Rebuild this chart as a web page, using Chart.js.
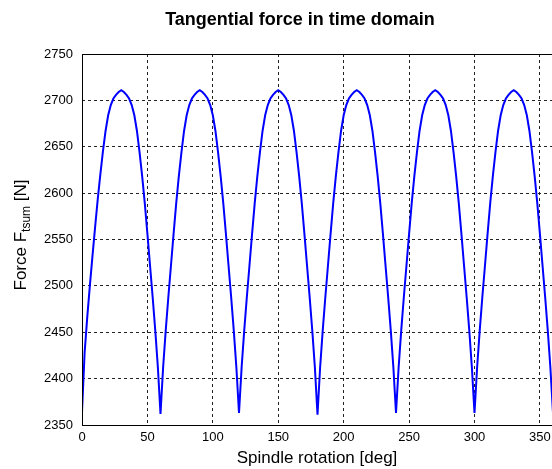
<!DOCTYPE html>
<html>
<head>
<meta charset="utf-8">
<script src="https://cdn.jsdelivr.net/npm/chart.js@4"></script>
<style>
  html, body { margin: 0; padding: 0; background: #fff; overflow: hidden; }
  #wrap { width: 552px; height: 469px; overflow: hidden; }
</style>
</head>
<body>
<div id="wrap"><canvas id="myChart" width="556" height="469"></canvas></div>
<script>
const chartTitle = 'Tangential force in time domain';
const xTitle = 'Spindle rotation [deg]';

const xTicks = [0, 50, 100, 150, 200, 250, 300, 350];
const yTicks = [2350, 2400, 2450, 2500, 2550, 2600, 2650, 2700, 2750];

// spindle angle, deg
const angles = [
  0, 2, 4, 6, 8, 10, 12, 14, 16, 18, 20, 22, 24, 26, 28, 30, 32, 34, 36, 38, 40, 42, 44, 46, 48, 50, 52, 54, 56, 58,
  60, 62, 64, 66, 68, 70, 72, 74, 76, 78, 80, 82, 84, 86, 88, 90, 92, 94, 96, 98, 100, 102, 104, 106, 108, 110, 112, 114, 116, 118,
  120, 122, 124, 126, 128, 130, 132, 134, 136, 138, 140, 142, 144, 146, 148, 150, 152, 154, 156, 158, 160, 162, 164, 166, 168, 170, 172, 174, 176, 178,
  180, 182, 184, 186, 188, 190, 192, 194, 196, 198, 200, 202, 204, 206, 208, 210, 212, 214, 216, 218, 220, 222, 224, 226, 228, 230, 232, 234, 236, 238,
  240, 242, 244, 246, 248, 250, 252, 254, 256, 258, 260, 262, 264, 266, 268, 270, 272, 274, 276, 278, 280, 282, 284, 286, 288, 290, 292, 294, 296, 298,
  300, 302, 304, 306, 308, 310, 312, 314, 316, 318, 320, 322, 324, 326, 328, 330, 332, 334, 336, 338, 340, 342, 344, 346, 348, 350, 352, 354, 356, 358,
  360
];

// tangential force sum, N
const forceTsum = [
  2364, 2428, 2466, 2500, 2532, 2563, 2593, 2620, 2645, 2667, 2684, 2695, 2702, 2706, 2709, 2711, 2709, 2706, 2702, 2695, 2684, 2667, 2644, 2618, 2589, 2556, 2522, 2488, 2452, 2412,
  2362, 2412, 2452, 2488, 2522, 2556, 2589, 2618, 2644, 2667, 2684, 2695, 2702, 2706, 2709, 2711, 2709, 2706, 2702, 2695, 2684, 2667, 2644, 2618, 2589, 2556, 2522, 2488, 2452, 2412,
  2363, 2412, 2452, 2488, 2522, 2556, 2589, 2618, 2644, 2667, 2684, 2695, 2702, 2706, 2709, 2711, 2709, 2706, 2702, 2695, 2684, 2667, 2644, 2618, 2589, 2556, 2522, 2488, 2452, 2412,
  2361, 2412, 2452, 2488, 2522, 2556, 2589, 2618, 2644, 2667, 2684, 2695, 2702, 2706, 2709, 2711, 2709, 2706, 2702, 2695, 2684, 2667, 2644, 2618, 2589, 2556, 2522, 2488, 2452, 2412,
  2363, 2412, 2452, 2488, 2522, 2556, 2589, 2618, 2644, 2667, 2684, 2695, 2702, 2706, 2709, 2711, 2709, 2706, 2702, 2695, 2684, 2667, 2644, 2618, 2589, 2556, 2522, 2488, 2452, 2412,
  2363, 2412, 2452, 2488, 2522, 2556, 2589, 2618, 2644, 2667, 2684, 2695, 2702, 2706, 2709, 2711, 2709, 2706, 2702, 2695, 2684, 2667, 2644, 2618, 2589, 2556, 2522, 2488, 2452, 2412,
  2363
];

const FONT = '"Liberation Sans", Arial, Helvetica, sans-serif';

// box, title and axis labels drawn the MATLAB way
const matlabDecor = {
  id: 'matlabDecor',
  afterDatasetsDraw: (chart) => {
    const { ctx, chartArea } = chart;
    const { left, top, right, bottom } = chartArea;
    ctx.save();
    ctx.strokeStyle = '#000';
    ctx.lineWidth = 1;
    ctx.strokeRect(Math.round(left) + 0.5, Math.round(top) + 0.5, Math.round(right - left), Math.round(bottom - top));

    ctx.fillStyle = '#000';
    ctx.textAlign = 'center';
    ctx.textBaseline = 'middle';
    ctx.font = 'bold 18px ' + FONT;
    ctx.fillText(chartTitle, 300, 20);

    ctx.font = '17px ' + FONT;
    ctx.fillText(xTitle, 317, 458);

    // y label with subscript
    const mainFont = '17px ' + FONT;
    const subFont = '12px ' + FONT;
    const parts = [
      { t: 'Force F', f: mainFont, dy: 0 },
      { t: 'tsum', f: subFont, dy: 6 },
      { t: ' [N]', f: mainFont, dy: 0 }
    ];
    let total = 0;
    parts.forEach((p) => { ctx.font = p.f; p.w = ctx.measureText(p.t).width; total += p.w; });
    ctx.translate(21, 235);
    ctx.rotate(-Math.PI / 2);
    ctx.textAlign = 'left';
    let xPos = -total / 2;
    parts.forEach((p) => {
      ctx.font = p.f;
      ctx.fillText(p.t, xPos, p.dy);
      xPos += p.w;
    });
    ctx.restore();
  }
};

const generateChart = () => {
  const ctx = document.getElementById('myChart');
  const points = angles.map((a, i) => ({ x: a, y: forceTsum[i] }));

  return new Chart(ctx, {
    type: 'line',
    data: {
      datasets: [
        {
          label: 'Ftsum',
          data: points,
          borderColor: '#0000ff',
          borderWidth: 2,
          pointRadius: 0,
          tension: 0,
          fill: false
        }
      ]
    },
    options: {
      responsive: false,
      animation: false,
      layout: { padding: { left: 0, right: 3, top: 54, bottom: 0 } },
      plugins: {
        legend: { display: false },
        title: { display: false },
        tooltip: { enabled: false }
      },
      scales: {
        x: {
          type: 'linear',
          min: 0,
          max: 360,
          afterBuildTicks: (scale) => {
            scale.ticks = xTicks.map((v) => ({ value: v }));
          },
          afterFit: (scale) => { scale.height = 44; },
          ticks: {
            color: '#000',
            font: { family: FONT, size: 13 },
            padding: 5,
            maxRotation: 0,
            callback: (v) => String(v)
          },
          grid: {
            color: (c) => (c.tick && c.tick.value === 0 ? 'rgba(0,0,0,0)' : '#222'),
            drawTicks: false
          },
          border: { display: false, dash: [3, 3] }
        },
        y: {
          min: 2350,
          max: 2750,
          afterBuildTicks: (scale) => {
            scale.ticks = yTicks.map((v) => ({ value: v }));
          },
          afterFit: (scale) => { scale.width = 82; },
          ticks: {
            color: '#000',
            font: { family: FONT, size: 13 },
            padding: 9,
            callback: (v) => String(v)
          },
          grid: {
            color: (c) => (c.tick && (c.tick.value === 2350 || c.tick.value === 2750) ? 'rgba(0,0,0,0)' : '#222'),
            drawTicks: false
          },
          border: { display: false, dash: [3, 3] }
        }
      }
    },
    plugins: [matlabDecor]
  });
};

generateChart();
</script>
</body>
</html>
